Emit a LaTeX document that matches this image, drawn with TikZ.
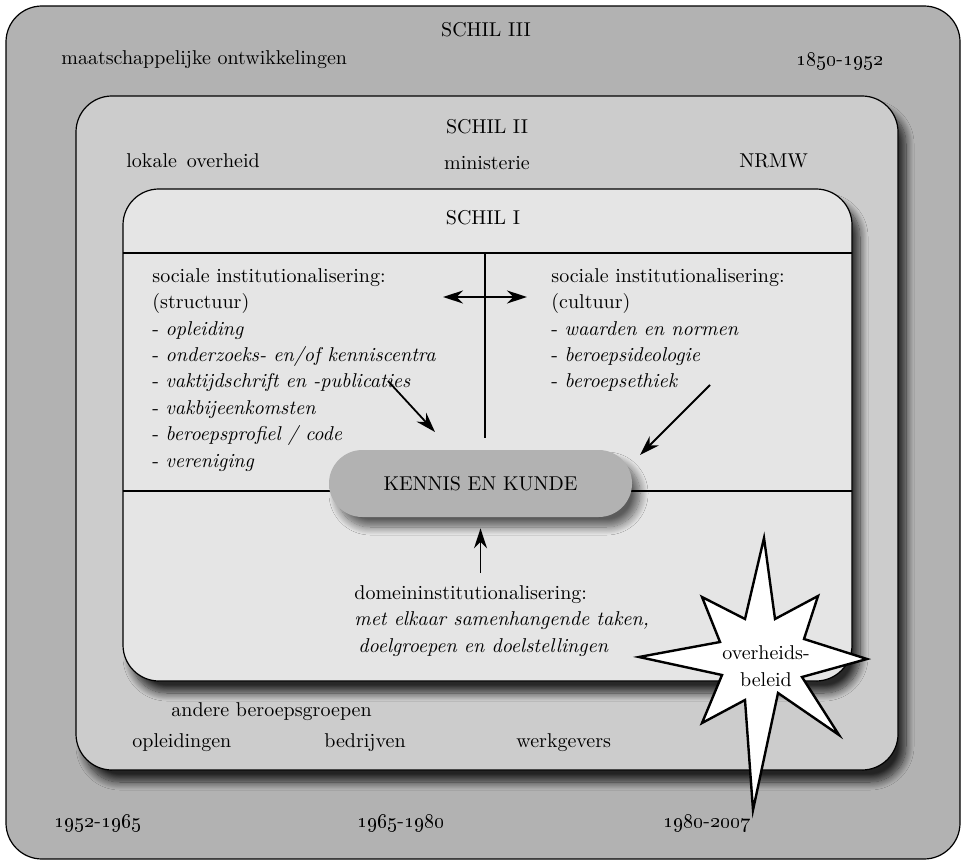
\documentclass[tikz,border=0pt]{standalone}
\usepackage{tikz}
\usetikzlibrary{arrows.meta,shadows.blur}

\begin{document}
\begin{tikzpicture}[x=0.5pt,y=-0.5pt,font=\fontsize{10}{13.2}\selectfont]
    \tikzstyle{shell}=[draw,rounded corners=18pt,line width=0.6pt,inner sep=0]
    \tikzstyle{shell shadow}=[blur shadow={shadow xshift=4pt,shadow yshift=-6pt,shadow blur radius=4pt,shadow blur steps=14,shadow opacity=80}]
    \tikzstyle{lbl}=[inner sep=0,anchor=west]
    \tikzstyle{head}=[inner sep=0]
    \tikzstyle{block}=[inner sep=0,anchor=north west,align=left]
    \tikzstyle{arr}=[-{Stealth[length=10pt,width=6.5pt]},line width=0.9pt]
    \tikzstyle{star}=[draw,fill=white,line width=1.2pt,line join=miter]

    \useasboundingbox (0,0) rectangle (961,860);

    \node(s3)[shell,fill=black!30,minimum width=477pt,minimum height=426.5pt] at (483,432.5){};
    \node(s2)[shell,fill=black!20,shell shadow,minimum width=411pt,minimum height=337pt] at (487,433){};
    \node(s1)[shell,fill=black!10,shell shadow,minimum width=364.5pt,minimum height=246pt] at (487.5,435){};

    \coordinate(hl) at (123,253);
    \coordinate(hr) at (852,253);
    \coordinate(ml) at (123,491);
    \coordinate(mr) at (852,491);
    \coordinate(vt) at (485,253);
    \coordinate(vb) at (485,438);
    \draw[line width=0.6pt] (hl) -- (hr);
    \draw[line width=0.6pt] (ml) -- (mr);
    \draw[line width=0.6pt] (vt) -- (vb);

    \node(kk)[fill=black!30,rounded corners=16.7pt,minimum width=151.5pt,minimum height=33.5pt,inner sep=0,blur shadow={shadow xshift=4pt,shadow yshift=-5pt,shadow blur radius=4pt,shadow blur steps=14,shadow opacity=60}] at (480.5,483.5){KENNIS EN KUNDE};

    \node(t3)[head] at (486,30){SCHIL III};
    \node(maat)[lbl] at (61,60){maatschappelijke ontwikkelingen};
    \node(p1)[lbl] at (796,61){\oldstylenums{1850}-\oldstylenums{1952}};
    \node(t2)[head] at (487,127){SCHIL II};
    \node(lok)[lbl] at (126,161){lokale\, overheid};
    \node(min)[head] at (487,163){ministerie};
    \node(nrmw)[lbl] at (739,161){NRMW};
    \node(t1)[head] at (483,218){SCHIL I};

    \node(struc)[block] at (152,268){sociale institutionalisering:\\(structuur)\\- \textit{opleiding}\\- \textit{onderzoeks- en/of kenniscentra}\\- \textit{vaktijdschrift en -publicaties}\\- \textit{vakbijeenkomsten}\\- \textit{beroepsprofiel / code}\\- \textit{vereniging}};
    \node(cult)[block] at (551,268){sociale institutionalisering:\\(cultuur)\\- \textit{waarden en normen}\\- \textit{beroepsideologie}\\- \textit{beroepsethiek}};
    \node(dom)[block] at (354,585){domeininstitutionalisering:\\\textit{met elkaar samenhangende taken,}\\\hspace{2pt}\textit{doelgroepen en doelstellingen}};

    \node(andere)[lbl] at (171,712){andere beroepsgroepen};
    \node(opl)[lbl] at (132,743){opleidingen};
    \node(bedr)[lbl] at (324,743){bedrijven};
    \node(werk)[lbl] at (516,743){werkgevers};
    \node(p2)[lbl] at (54,823){\oldstylenums{1952}-\oldstylenums{1965}};
    \node(p3)[lbl] at (357,823){\oldstylenums{1965}-\oldstylenums{1980}};
    \node(p4)[lbl] at (663,823){\oldstylenums{1980}-\oldstylenums{2007}};

    \coordinate(ha) at (443,297);
    \coordinate(hb) at (527,297);
    \coordinate(la) at (388,381);
    \coordinate(lb) at (435,432);
    \coordinate(ra) at (710,385);
    \coordinate(rb) at (640,455);
    \draw[arr,{Stealth[length=10pt,width=6.5pt]}-{Stealth[length=10pt,width=6.5pt]}] (ha) -- (hb);
    \draw[arr] (la) -- (lb);
    \draw[arr] (ra) -- (rb);
    \draw[arr,shorten <=6pt,shorten >=5.5pt] (dom.north -| kk.south) -- (kk.south);

    \draw[star] (764,538) -- (775,619) -- (818,596) -- (804,639) -- (867,659) -- (802,677) -- (839,735) -- (778,693) -- (753,810) -- (745,700) -- (702,723) -- (722,675) -- (639,657) -- (720,642) -- (702,597) -- (745,619) -- cycle;
    \node(ob)[head,align=center] at (766,666){overheids-\\beleid};
\end{tikzpicture}
\end{document}
